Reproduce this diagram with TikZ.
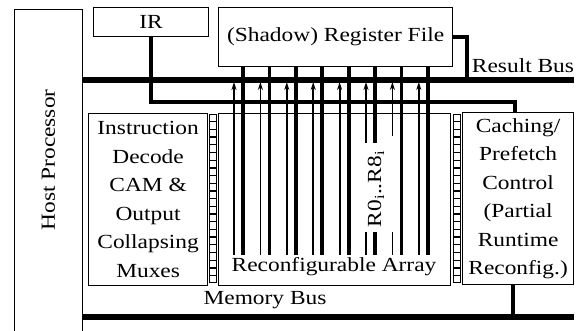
\documentclass[tikz,border=0pt]{standalone}
\usepackage{fontspec}
\setmainfont{Liberation Serif}[FakeStretch=1.17]
\usetikzlibrary{arrows.meta,calc}
\begin{document}
\begin{tikzpicture}[x=1pt,y=-1pt,
  box/.style={draw, line width=1.2pt, inner sep=0pt, anchor=north west,
              font=\fontsize{20}{28.5}\selectfont, align=center},
  lbl/.style={font=\fontsize{20}{28}\selectfont, inner sep=0pt},
  ladder/.style={draw, line width=1.3pt, inner sep=0pt, anchor=north west,
                 minimum width=7pt, minimum height=168pt},
  rung/.style={line width=1.3pt},
  bus/.style={line width=5.5pt},
  wide/.style={line width=4pt},
  regline/.style={line width=3.8pt},
  resline/.style={line width=1.8pt, -{Stealth[length=8pt,width=5pt]}, shorten >=2pt},
  plain/.style={line width=1.8pt}]
\useasboundingbox (0,0) rectangle (583,331);
\clip (0,0) rectangle (583,331);

% boxes
\node[box, minimum width=68pt, minimum height=340pt] (host) at (14,9) {};
\node[lbl, rotate=90] (hostt) at (48.5,160) {Host Processor};
\node[box, minimum width=115pt, minimum height=29pt] (ir) at (93,7) {IR};
\node[box, minimum width=234pt, minimum height=59pt] (reg) at (218,7) {(Shadow) Register File};
\node[box, minimum width=119pt, minimum height=172pt] (dec) at (88,113)
  {Instruction\\Decode\\CAM \&\\Output\\Collapsing\\Muxes};
\node[box, minimum width=232pt, minimum height=172pt] (arr) at (218,113) {};
\node[lbl] (arrt) at (334,267) {Reconfigurable Array};
\node[box, minimum width=111pt, minimum height=172pt] (cache) at (462,112)
  {Caching/\\Prefetch\\Control\\(Partial\\Runtime\\Reconfig.)};

% ladders
\node[ladder] (ladL) at (209,114) {};
\node[ladder] (ladR) at (453,114) {};
\foreach \L in {ladL,ladR}{
  \foreach \k in {1,...,21}{
    \draw[rung] ($(\L.north west)!\k/22!(\L.south west)$) -- ($(\L.north east)!\k/22!(\L.south east)$);
  }
}

% buses
\coordinate (rbA) at (82,80);
\coordinate (rbB) at (574,80);
\coordinate (rbJ) at (467,80);
\coordinate (mbA) at (82,317);
\coordinate (mbB) at (574,317);
\coordinate (mbJ) at (513,317);
\coordinate (cbJ) at (515,102.5);
\draw[bus] (rbA) -- (rbB);
\draw[bus] (mbA) -- (mbB);
\draw[wide] (reg.east) -| (rbJ);
\draw[wide] (ir.south) |- (cbJ) -- (cbJ |- cache.north);
\draw[wide] (mbJ |- cache.south) -- (mbJ);
\node[lbl] (rbt) at (523,66) {Result Bus};
\node[lbl] (mbt) at (265,300) {Memory Bus};

% register lines and result lines
\foreach \i in {0,...,7}{
  \coordinate (t\i) at ({243+26.4*\i},255);
  \coordinate (s\i) at ({234+26.4*\i},255);
}
\foreach \i in {0,1,2,3,4,6,7}{
  \draw[regline] (reg.south -| t\i) -- (t\i);
}
\foreach \i in {0,1,2,3,4,7}{
  \draw[resline] (s\i) -- (s\i |- rbA);
}
% interrupted lines around the label
\coordinate (gA) at (0,143);
\coordinate (gB) at (0,232);
\coordinate (gC) at (0,136);
\draw[regline] (reg.south -| t5) -- (t5 |- gA);
\draw[regline] (t5 |- gB) -- (t5);
\draw[resline] (s5 |- gA) -- (s5 |- rbA);
\draw[plain] (s5 |- gB) -- (s5);
\draw[resline] (s6 |- gC) -- (s6 |- rbA);
\draw[plain] (s6 |- gB) -- (s6);
\node[lbl, rotate=90] (rlab) at (376,189) {R0\textsubscript{i}..R8\textsubscript{i}};
\end{tikzpicture}
\end{document}
